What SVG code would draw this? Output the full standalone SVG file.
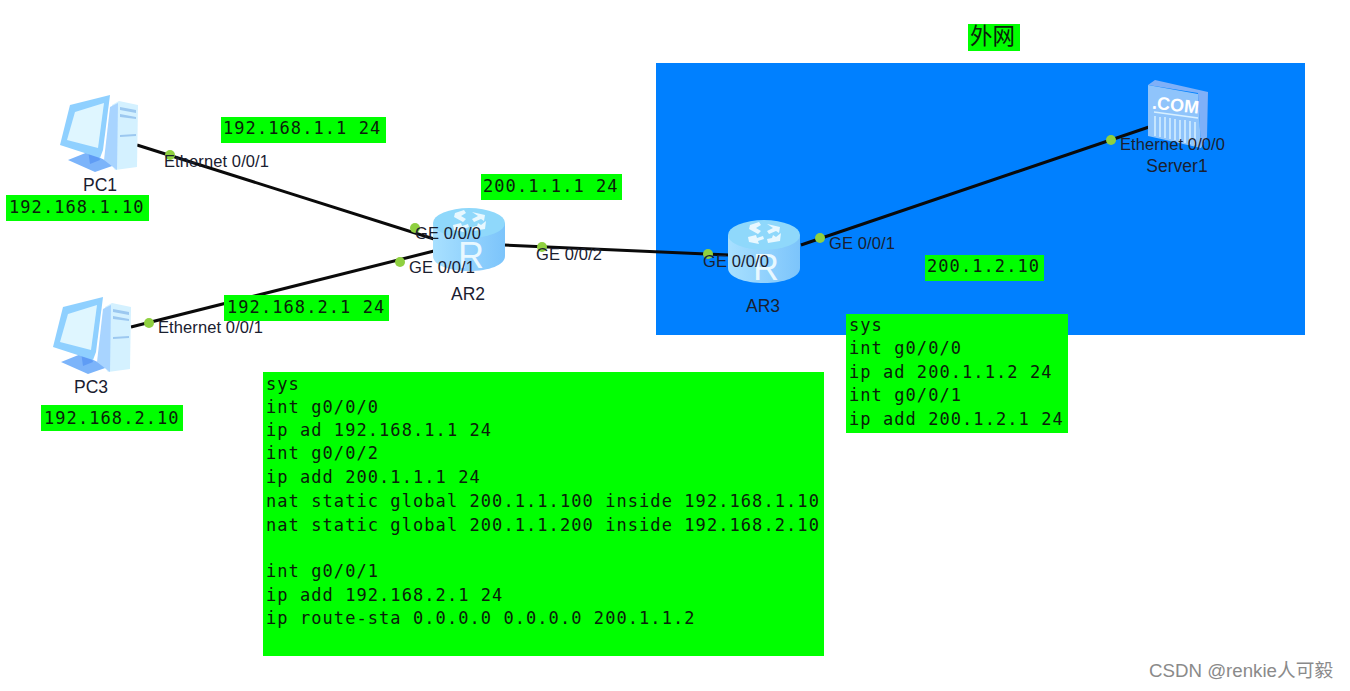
<svg xmlns="http://www.w3.org/2000/svg" width="1350" height="691" viewBox="0 0 1350 691">
<style>
.g{fill:#00ff00}
.m{font-family:"DejaVu Sans Mono","Liberation Mono",monospace;font-size:17px;letter-spacing:1.07px;fill:#0a200a}
.l{font-family:"Liberation Sans",Arial,sans-serif;font-size:16.5px;letter-spacing:.1px;fill:#1a2030}
.n{font-family:"Liberation Sans",Arial,sans-serif;font-size:17.5px;fill:#1a2030}
.c{stroke:#0a0a0a;stroke-width:3;fill:none}
.d{fill:#8fd040}
</style>
<defs>
<linearGradient id="rs" x1="0" x2="1" y1="0" y2="0"><stop offset="0" stop-color="#a8e0ff"/><stop offset="1" stop-color="#7cc4fb"/></linearGradient>
<g id="router">
<path d="M-36-15V18C-36 27-20 33 0 33S36 27 36 18V-15Z" fill="url(#rs)"/>
<ellipse cx="0" cy="-15" rx="36" ry="15" fill="#8fd8fb"/>
<path d="M-14-25l9-3 2 3-5 3 5 3-3 3-9-5zM3-26l13 3-1 6-3-2-7 3-2-3 6-3zM-16-13l8-2 1 3 6-2 1 3-6 2 1 3-10-2zM3-11l5-1 1-3 3 2 5-4-1 8-12 2z" fill="#e8f8ff"/>
<text x="2" y="30" text-anchor="middle" font-family="Liberation Sans,sans-serif" font-size="36" fill="#e8f8ff">R</text>
</g>
<g id="pc">
<path d="M68 160 88 152 115 165 95 172Z" fill="#7cb4fa"/>
<path d="M88 150H97L100 160 90 164Z" fill="#5f9cf5"/>
<path d="M112 105 119 101 138 105 137 167 115 170 108 160Z" fill="#d4f1ff"/>
<path d="M110 107 118 103 117 170 104 160Z" fill="#a8d4ff"/>
<path d="M120 107 136 110V113L120 110ZM120 114 136 117V119L120 117ZM120 135 136 134V136L120 137Z" fill="#9cc8f0"/>
<path d="M60 145 70 105 110 95 103 150 100 158Z" fill="#8fd0ff"/>
<path d="M67 140 75 112 104 103 98 148Z" fill="#dff6ff"/>
</g>
</defs>
<rect width="1350" height="691" fill="#fff"/>
<rect id="zone" x="656" y="63" width="649" height="272" fill="#0080ff"/>
<g id="connectors">
<path class="c" d="M137 145 434 239"/>
<path class="c" d="M131 327 434 251"/>
<path class="c" d="M504 245 729 255"/>
<path class="c" d="M801 245 1149 127"/>
</g>
<g id="pc1"><use href="#pc"/><text class="n" x="100" y="191" text-anchor="middle">PC1</text></g>
<g id="pc3"><use href="#pc" x="-7" y="202"/><text class="n" x="91" y="393" text-anchor="middle">PC3</text></g>
<g id="ar2"><use href="#router" x="469" y="238"/><text class="n" x="468" y="300" text-anchor="middle">AR2</text></g>
<g id="ar3"><use href="#router" x="764" y="250"/><text class="n" x="763" y="312" text-anchor="middle">AR3</text></g>
<g id="server1">
<path d="M1148 85 1155 80 1208 92 1207 137 1201 148 1198 93Z" fill="#7fb0f8"/>
<path d="M1148 85 1198 94 1201 148 1148 136Z" fill="#8fc4fb"/>
<path d="M1154 112 1198 118M1155 116V136M1160 117V137M1165 117V138M1170 118V139M1175 119V140M1180 120V142M1185 120V143M1190 121V144M1195 122V145" stroke="#d8f0ff" stroke-width="1.5" fill="none"/>
<text x="1175" y="111" text-anchor="middle" font-family="Liberation Sans,sans-serif" font-size="18" font-weight="bold" fill="#fff" transform="rotate(6 1175 111)">.COM</text>
<text class="n" x="1177" y="172" text-anchor="middle">Server1</text>
</g>
<g id="ports">
<circle class="d" cx="170" cy="155" r="5"/><circle class="d" cx="415" cy="228" r="5"/><circle class="d" cx="400" cy="262" r="5"/><circle class="d" cx="149" cy="323" r="5"/><circle class="d" cx="542" cy="247" r="5"/><circle class="d" cx="708" cy="254" r="5"/><circle class="d" cx="820" cy="238" r="5"/><circle class="d" cx="1111" cy="140" r="5"/>
<text class="l" x="164" y="167">Ethernet 0/0/1</text>
<text class="l" x="415" y="239">GE 0/0/0</text>
<text class="l" x="409" y="273">GE 0/0/1</text>
<text class="l" x="158" y="333">Ethernet 0/0/1</text>
<text class="l" x="536" y="260">GE 0/0/2</text>
<text class="l" x="703" y="267">GE 0/0/0</text>
<text class="l" x="829" y="249">GE 0/0/1</text>
<text class="l" x="1120" y="150">Ethernet 0/0/0</text>
</g>
<g id="label-wan"><rect class="g" x="968" y="24" width="52" height="27"/><text x="970" y="44" font-family="Noto Sans CJK SC,sans-serif" font-size="22.5" fill="#0a200a">外网</text></g>
<g id="ip-pc1"><rect class="g" x="6" y="195" width="143" height="26"/><text class="m" x="9" y="213">192.168.1.10</text></g>
<g id="ip-pc3"><rect class="g" x="41" y="405" width="142" height="26"/><text class="m" x="44" y="424">192.168.2.10</text></g>
<g id="ip-ar2-g0"><rect class="g" x="221" y="117" width="165" height="26"/><text class="m" x="223" y="134">192.168.1.1 24</text></g>
<g id="ip-ar2-g1"><rect class="g" x="224" y="295" width="165" height="26"/><text class="m" x="227" y="313">192.168.2.1 24</text></g>
<g id="ip-ar2-g2"><rect class="g" x="481" y="174" width="141" height="26"/><text class="m" x="483" y="192">200.1.1.1 24</text></g>
<g id="ip-server"><rect class="g" x="925" y="255" width="119" height="26"/><text class="m" x="927" y="272">200.1.2.10</text></g>
<g id="cfg-ar3"><rect class="g" x="846" y="314" width="222" height="119"/>
<text class="m" x="849" y="331">sys</text><text class="m" x="849" y="354">int g0/0/0</text><text class="m" x="849" y="378">ip ad 200.1.1.2 24</text><text class="m" x="849" y="401">int g0/0/1</text><text class="m" x="849" y="425">ip add 200.1.2.1 24</text></g>
<g id="cfg-ar2"><rect class="g" x="263" y="372" width="561" height="284"/>
<text class="m" x="266" y="390">sys</text><text class="m" x="266" y="413">int g0/0/0</text><text class="m" x="266" y="436">ip ad 192.168.1.1 24</text><text class="m" x="266" y="459">int g0/0/2</text><text class="m" x="266" y="483">ip add 200.1.1.1 24</text><text class="m" x="266" y="507">nat static global 200.1.1.100 inside 192.168.1.10</text><text class="m" x="266" y="531">nat static global 200.1.1.200 inside 192.168.2.10</text><text class="m" x="266" y="577">int g0/0/1</text><text class="m" x="266" y="601">ip add 192.168.2.1 24</text><text class="m" x="266" y="624">ip route-sta 0.0.0.0 0.0.0.0 200.1.1.2</text></g>
<text id="watermark" x="1149" y="677" font-family="Liberation Sans,Noto Sans CJK SC,sans-serif" font-size="18.7" fill="#8a8a8a">CSDN @renkie人可毅</text>
</svg>
